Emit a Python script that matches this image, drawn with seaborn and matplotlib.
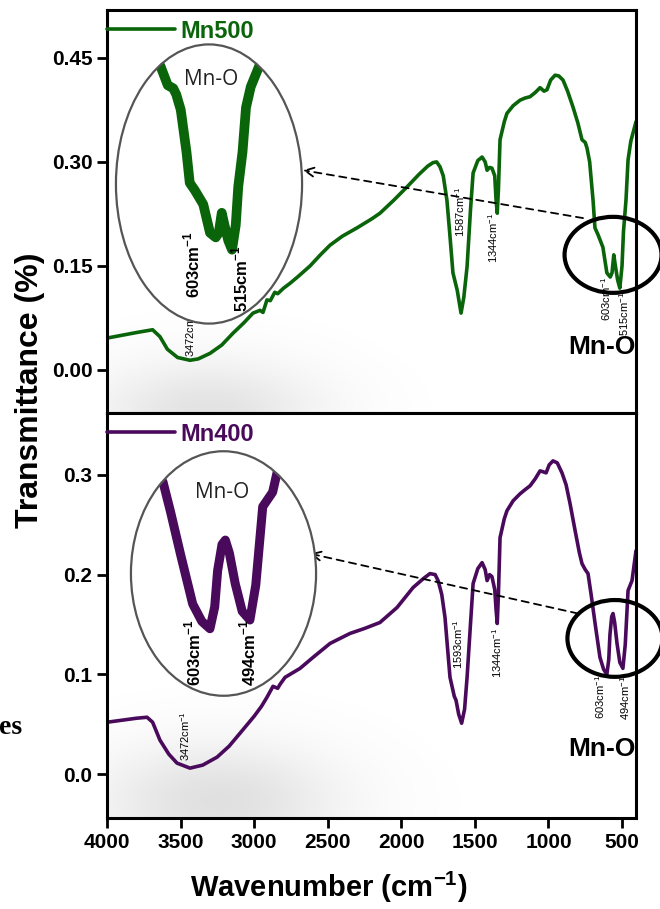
import numpy as np
import matplotlib
matplotlib.use("Agg")
import matplotlib.pyplot as plt
from matplotlib.patches import Ellipse
import seaborn as sns

# ---------------------------------------------------------------------------
# Data
# ---------------------------------------------------------------------------

wn_500 = [4000, 3900, 3800, 3690, 3640, 3590, 3520, 3436, 3380, 3300, 3220, 3144,
          3070, 3008, 2960, 2940, 2913, 2890, 2860, 2840, 2800, 2756, 2700, 2620,
          2550, 2484, 2400, 2300, 2200, 2145, 2050, 1961, 1880, 1820, 1784, 1760,
          1737, 1715, 1690, 1670, 1649, 1620, 1594, 1575, 1553, 1530, 1512, 1480,
          1451, 1430, 1417, 1400, 1384, 1365, 1356, 1348, 1340, 1329, 1300, 1282,
          1240, 1193, 1160, 1125, 1090, 1057, 1030, 1010, 985, 955, 930, 901, 870,
          833, 800, 772, 750, 738, 720, 697, 684, 663, 630, 603, 580, 568, 556, 545,
          530, 515, 500, 490, 473, 459, 440, 405]
t_500 = [0.046, 0.050, 0.054, 0.058, 0.048, 0.030, 0.018, 0.014, 0.016, 0.024, 0.036, 0.053,
         0.068, 0.082, 0.086, 0.083, 0.101, 0.100, 0.112, 0.110, 0.118, 0.125, 0.135, 0.150,
         0.166, 0.180, 0.193, 0.205, 0.218, 0.226, 0.245, 0.264, 0.282, 0.294, 0.299, 0.300,
         0.293, 0.280, 0.245, 0.195, 0.140, 0.115, 0.082, 0.105, 0.149, 0.230, 0.284, 0.302,
         0.307, 0.300, 0.288, 0.292, 0.291, 0.280, 0.245, 0.226, 0.260, 0.332, 0.358, 0.370,
         0.381, 0.389, 0.392, 0.394, 0.400, 0.407, 0.402, 0.404, 0.418, 0.425, 0.424, 0.418, 0.402,
         0.379, 0.356, 0.332, 0.328, 0.320, 0.300, 0.245, 0.205, 0.195, 0.177, 0.140, 0.134, 0.140,
         0.166, 0.150, 0.130, 0.118, 0.150, 0.200, 0.245, 0.303, 0.330, 0.358]

wn_400 = [4000, 3900, 3800, 3728, 3690, 3640, 3580, 3524, 3436, 3350, 3252, 3170,
          3096, 3000, 2950, 2913, 2872, 2840, 2824, 2790, 2756, 2688, 2600, 2484,
          2349, 2250, 2145, 2029, 1920, 1850, 1805, 1770, 1750, 1725, 1703, 1685,
          1669, 1640, 1628, 1610, 1590, 1570, 1553, 1530, 1512, 1480, 1451, 1430,
          1417, 1400, 1384, 1365, 1356, 1348, 1340, 1329, 1300, 1282, 1240, 1193,
          1160, 1125, 1090, 1057, 1035, 1016, 995, 969, 940, 908, 880, 853, 820, 790,
          772, 750, 731, 710, 683, 650, 625, 603, 590, 582, 570, 561, 550, 534, 515,
          494, 478, 459, 432, 405]
t_400 = [0.052, 0.054, 0.056, 0.057, 0.052, 0.034, 0.020, 0.011, 0.006, 0.009, 0.017, 0.028,
         0.041, 0.058, 0.068, 0.077, 0.088, 0.086, 0.090, 0.097, 0.100, 0.106, 0.117, 0.131,
         0.141, 0.146, 0.152, 0.167, 0.187, 0.196, 0.201, 0.200, 0.194, 0.180, 0.157, 0.125,
         0.097, 0.078, 0.074, 0.060, 0.051, 0.065, 0.097, 0.150, 0.191, 0.206, 0.212, 0.205,
         0.194, 0.200, 0.198, 0.185, 0.165, 0.151, 0.180, 0.237, 0.256, 0.264, 0.274, 0.281,
         0.285, 0.289, 0.296, 0.304, 0.303, 0.302, 0.310, 0.314, 0.312, 0.302, 0.290, 0.271, 0.245, 0.222,
         0.211, 0.205, 0.201, 0.180, 0.151, 0.117, 0.105, 0.100, 0.115, 0.140, 0.158, 0.161, 0.152, 0.131, 0.112,
         0.106, 0.130, 0.184, 0.194, 0.224]

x_ticks = [4000, 3500, 3000, 2500, 2000, 1500, 1000, 500]
y_ticks_500 = [0.00, 0.15, 0.30, 0.45]
y_ticks_400 = [0.0, 0.1, 0.2, 0.3]

COLOR_500 = "#0a640a"
COLOR_400 = "#4a0a5c"

# ---------------------------------------------------------------------------
# Style
# ---------------------------------------------------------------------------

sns.set_style("ticks")
plt.rcParams.update({
    "font.family": ["Liberation Sans", "DejaVu Sans"],
    "mathtext.fontset": "custom",
    "mathtext.rm": "Liberation Sans",
    "mathtext.bf": "Liberation Sans:bold",
    "text.color": "black",
    "axes.labelcolor": "black",
    "axes.edgecolor": "black",
    "xtick.color": "black",
    "ytick.color": "black",
    "axes.linewidth": 2.2,
    "xtick.major.width": 2.0,
    "ytick.major.width": 2.0,
    "xtick.major.size": 7,
    "ytick.major.size": 7,
})

W, H = 660, 909


def fx(px):
    return px / W


def fy(py):
    return 1 - py / H


fig = plt.figure(figsize=(6.6, 9.09), dpi=100)
ax_top = fig.add_axes([fx(107), fy(413), fx(636) - fx(107), fy(10) - fy(413)])
ax_bot = fig.add_axes([fx(107), fy(818), fx(636) - fx(107), fy(413) - fy(818)])


def shade(ax, cx, cy, sx, sy, strength):
    # soft grey shadow behind the 3472 band (as in the original figure)
    yy, xx = np.mgrid[0:1:200j, 0:1:200j]
    a = strength * np.exp(-0.5 * ((xx - cx) / sx) ** 2 - 0.5 * ((yy - cy) / sy) ** 2)
    img = np.zeros((200, 200, 4))
    img[..., :3] = 0.5
    img[..., 3] = a
    ax.imshow(img, extent=(0, 1, 0, 1), transform=ax.transAxes, origin="lower",
              aspect="auto", zorder=0, interpolation="bilinear")


def panel(ax, wn, t, color, label, ylim, yticks, ylabels, shadow):
    shade(ax, *shadow)
    sns.lineplot(x=wn, y=t, ax=ax, color=color, linewidth=2.6, label=label, sort=False)
    ax.set_xlim(4000, 405)
    ax.set_ylim(*ylim)
    ax.set_yticks(yticks, ylabels, fontsize=15, fontweight="bold")
    ax.set_xlabel("")
    ax.set_ylabel("")
    ax.legend(loc="upper left", bbox_to_anchor=(0.0, 0.976), frameon=False,
              borderaxespad=0, borderpad=0, handlelength=2.9, handletextpad=0.2,
              prop={"weight": "bold", "size": 17}, labelcolor="linecolor")
    for s in ax.spines.values():
        s.set_visible(True)


panel(ax_top, wn_500, t_500, COLOR_500, "Mn500", (-0.062, 0.519), y_ticks_500,
      ["0.00", "0.15", "0.30", "0.45"], (0.19, 0.0, 0.15, 0.09, 0.22))
panel(ax_bot, wn_400, t_400, COLOR_400, "Mn400", (-0.044, 0.362), y_ticks_400,
      ["0.0", "0.1", "0.2", "0.3"], (0.21, 0.04, 0.16, 0.10, 0.24))

ax_top.tick_params(axis="x", bottom=False, labelbottom=False)
ax_bot.set_xticks(x_ticks, [str(v) for v in x_ticks], fontsize=15, fontweight="bold")

# peak labels
small = dict(rotation=90, ha="center", va="center", fontsize=8)
ax_top.text(3436, 0.019, "3472cm$^{-1}$", **{**small, "va": "bottom"})
ax_top.text(1601, 0.228, "1587cm$^{-1}$", **small)
ax_top.text(1375, 0.190, "1344cm$^{-1}$", **small)
ax_top.text(609, 0.102, "603cm$^{-1}$", **small)
ax_top.text(487, 0.081, "515cm$^{-1}$", **small)
ax_top.text(636, 0.033, "Mn-O", ha="center", va="center", fontsize=19, fontweight="bold")

ax_bot.text(3470, 0.038, "3472cm$^{-1}$", **small)
ax_bot.text(1615, 0.130, "1593cm$^{-1}$", **small)
ax_bot.text(1350, 0.122, "1344cm$^{-1}$", **small)
ax_bot.text(650, 0.077, "603cm$^{-1}$", **small)
ax_bot.text(480, 0.076, "494cm$^{-1}$", **small)
ax_bot.text(636, 0.025, "Mn-O", ha="center", va="center", fontsize=19, fontweight="bold")

# highlight rings and dashed arrows
ax_top.add_patch(Ellipse((561, 0.166), 659, 0.1096, fill=False, lw=3, ec="black",
                         clip_on=False, zorder=4))
ax_bot.add_patch(Ellipse((548, 0.136), 646, 0.077, fill=False, lw=3, ec="black",
                         clip_on=False, zorder=4))
arrow = dict(arrowstyle="->", linestyle=(0, (4, 3)), lw=1.3, color="black",
             mutation_scale=16, shrinkA=0, shrinkB=0)
ax_top.annotate("", xy=(2668, 0.288), xytext=(765, 0.219), arrowprops=arrow)
ax_bot.annotate("", xy=(2620, 0.221), xytext=(799, 0.161), arrowprops=arrow)


# zoomed insets
def inset(box, wn, t, color, xlim, ylim, lw, labels):
    x0, y0, x1, y1 = box
    ax = fig.add_axes([fx(x0), fy(y1), fx(x1) - fx(x0), fy(y0) - fy(y1)])
    ax.set_axis_off()
    bg = Ellipse((0.5, 0.5), 0.99, 0.99, transform=ax.transAxes, fc="white",
                 ec="none", zorder=1)
    ax.add_patch(bg)
    sns.lineplot(x=wn, y=t, ax=ax, color=color, linewidth=lw, sort=False, legend=False)
    ln = ax.lines[-1]
    ln.set_zorder(2)
    ln.set_clip_path(bg)
    ln.set_solid_capstyle("butt")
    ax.add_patch(Ellipse((0.5, 0.5), 0.99, 0.99, transform=ax.transAxes, fill=False,
                         ec="#555555", lw=1.6, zorder=3, clip_on=False))
    ax.set_xlim(*xlim)
    ax.set_ylim(*ylim)
    ax.set_xlabel("")
    ax.set_ylabel("")
    for txt, tx, ty in labels:
        ax.text(tx, ty, txt, transform=ax.transAxes, rotation=90, ha="center",
                va="center", fontsize=12, fontweight="bold", zorder=4)
    return ax


in_top = inset((115, 43, 303, 325), wn_500, t_500, COLOR_500, (983, 231), (0.020, 0.387), 7,
               [("603cm$^{\\mathbf{-1}}$", 0.41, 0.216), ("515cm$^{\\mathbf{-1}}$", 0.665, 0.163)])
in_top.text(0.51, 0.869, "Mn-O", transform=in_top.transAxes, ha="center", va="center",
            fontsize=15, family=["Open Sans", "DejaVu Sans"], color="#222222", zorder=4)
in_bot = inset((130, 450, 317, 697), wn_400, t_400, COLOR_400, (821, 311), (0.053, 0.223), 6.5,
               [("603cm$^{\\mathbf{-1}}$", 0.337, 0.178), ("494cm$^{\\mathbf{-1}}$", 0.631, 0.178)])
in_bot.text(0.492, 0.826, "Mn-O", transform=in_bot.transAxes, ha="center", va="center",
            fontsize=15, family=["Open Sans", "DejaVu Sans"], color="#222222", zorder=4)

# axis titles
fig.text(fx(30), fy(390), "Transmittance (%)", rotation=90, ha="center", va="center",
         fontsize=23, fontweight="bold")
fig.text(fx(329), fy(887), "Wavenumber (cm$^{\\mathbf{-1}}$)", ha="center", va="center",
         fontsize=21, fontweight="bold")
fig.text(fx(22), fy(727), "es", ha="right", va="center", fontsize=20, fontweight="bold",
         family=["Liberation Serif", "DejaVu Serif"])

fig.savefig("out.png", dpi=100)
